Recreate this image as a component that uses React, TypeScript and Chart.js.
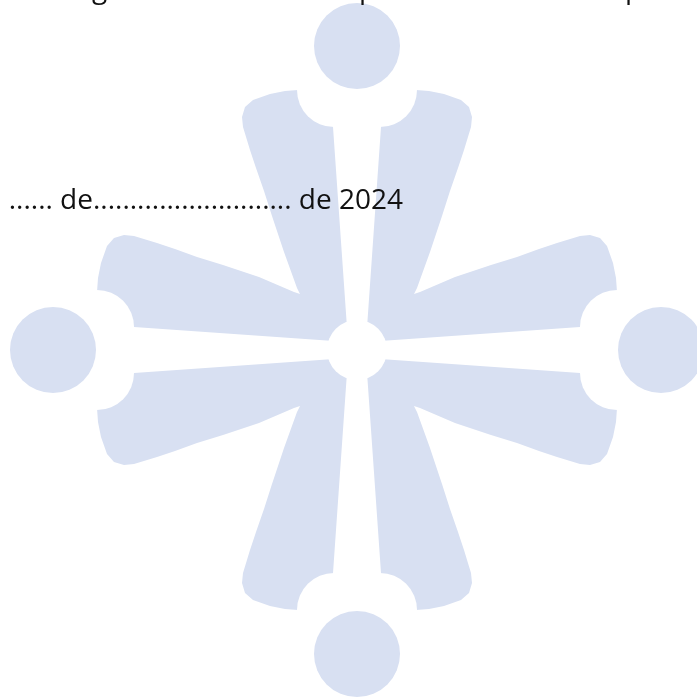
import React, { useEffect, useRef } from "react";
import { Chart, registerables } from "chart.js";

Chart.register(...registerables);

const WIDTH = 697;
const HEIGHT = 698;
const BLUE = "#D8E0F2";

// Outline of the top-left quarter piece (top arm left half + left arm upper half)
const topLeftOutline: [number, number][] = [
  [298, 90], [285, 91], [270, 94], [253, 100], [245, 107], [242, 117], [243, 127],
  [250, 150], [256, 168], [264, 191], [272, 216], [284, 252], [297, 288], [300, 294],
  [294, 292], [259, 277], [223, 265], [197, 257], [175, 249], [157, 243], [134, 236],
  [124, 235], [114, 238], [107, 246], [101, 263], [98, 278], [97, 292],
  [97, 327], [134, 327], [348, 342], [333, 127], [334, 90], [298, 90],
];

// Mirror axes of the emblem
const MIRROR_X = 714;
const MIRROR_Y = 700;

// Outer discs
const outerDiscs: [number, number][] = [
  [357, 46], [53, 350], [661, 350], [357, 654],
];
// White cut-outs at the ends of the arms
const armCutouts: [number, number][] = [
  [334, 90], [380, 90], [97, 327], [617, 327],
  [97, 373], [617, 373], [334, 610], [380, 610],
];
// White hub
const hub: [number, number][] = [[357, 350]];

// Text fragments
const dateLine = "...... de........................... de 2024";
const topFragments: { text: string; x: number }[] = [
  { text: "g", x: 92 },
  { text: "p", x: 359 },
  { text: "p", x: 625 },
];

const toPts = (arr: [number, number][]) => arr.map(([x, y]) => ({ x, y }));

export default function App() {
  const ref = useRef<HTMLCanvasElement | null>(null);
  useEffect(() => {
    if (!ref.current) return;
    const pieces = [
      topLeftOutline,
      topLeftOutline.map(([x, y]) => [MIRROR_X - x, y] as [number, number]),
      topLeftOutline.map(([x, y]) => [x, MIRROR_Y - y] as [number, number]),
      topLeftOutline.map(([x, y]) => [MIRROR_X - x, MIRROR_Y - y] as [number, number]),
    ];
    const pieceSets = pieces.map((p) => ({
      data: toPts(p),
      showLine: true,
      fill: "shape",
      backgroundColor: BLUE,
      borderColor: "rgba(0,0,0,0)",
      borderWidth: 0,
      pointRadius: 0,
      pointHoverRadius: 0,
      tension: 0,
      order: 3,
    }));
    const textPlugin = {
      id: "pageText",
      afterDraw(chart: any) {
        const ctx = chart.ctx;
        const sx = chart.scales.x;
        const sy = chart.scales.y;
        ctx.save();
        ctx.fillStyle = "#111";
        ctx.font = '28px "Open Sans"';
        ctx.textBaseline = "alphabetic";
        ctx.textAlign = "right";
        ctx.fillText(dateLine, sx.getPixelForValue(403), sy.getPixelForValue(209));
        ctx.textAlign = "left";
        for (const f of topFragments) {
          ctx.fillText(f.text, sx.getPixelForValue(f.x), sy.getPixelForValue(-2));
        }
        ctx.restore();
      },
    };
    const chart = new Chart(ref.current, {
      type: "scatter",
      data: {
        datasets: [
          {
            data: toPts(outerDiscs),
            showLine: false,
            pointRadius: 43,
            pointHoverRadius: 43,
            backgroundColor: BLUE,
            borderWidth: 0,
            order: 0,
            clip: false,
          },
          {
            data: toPts(armCutouts),
            showLine: false,
            pointRadius: 37,
            pointHoverRadius: 37,
            backgroundColor: "#FFFFFF",
            borderWidth: 0,
            order: 1,
            clip: false,
          },
          {
            data: toPts(hub),
            showLine: false,
            pointRadius: 30,
            pointHoverRadius: 30,
            backgroundColor: "#FFFFFF",
            borderWidth: 0,
            order: 2,
            clip: false,
          },
          ...pieceSets,
        ] as any,
      },
      options: {
        responsive: false,
        maintainAspectRatio: false,
        animation: false,
        devicePixelRatio: 1,
        events: [],
        layout: { padding: 0, autoPadding: false },
        scales: {
          x: { type: "linear", display: false, min: 0, max: WIDTH },
          y: { type: "linear", display: false, min: 0, max: HEIGHT, reverse: true },
        },
        plugins: {
          legend: { display: false },
          tooltip: { enabled: false },
        },
      },
      plugins: [textPlugin],
    });
    return () => chart.destroy();
  }, []);
  return (
    <div style={{ position: "absolute", left: 0, top: 0, width: WIDTH, height: HEIGHT, background: "#fff" }}>
      <canvas ref={ref} width={WIDTH} height={HEIGHT} style={{ display: "block", width: WIDTH, height: HEIGHT }} />
    </div>
  );
}
